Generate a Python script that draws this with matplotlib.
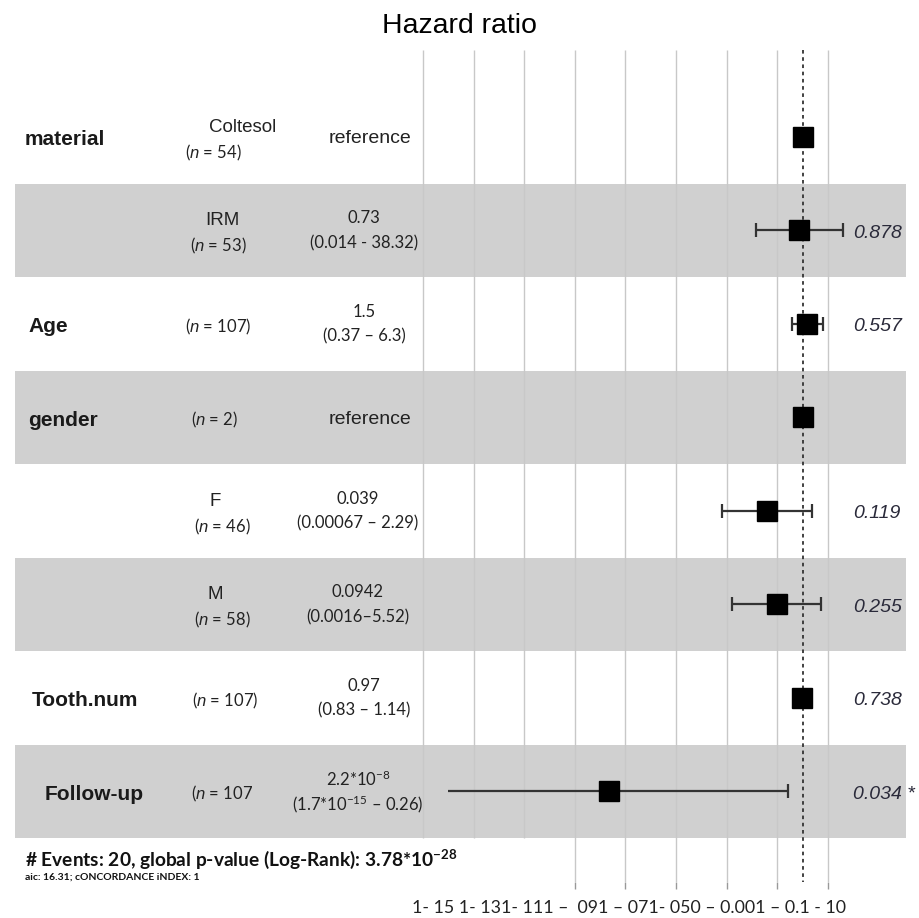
import numpy as np
import matplotlib
matplotlib.use('Agg')
import matplotlib.pyplot as plt

# rows from top to bottom
var_names = ['material', '', 'Age', 'gender', '', '', 'Tooth.num', 'Follow-up']
levels = ['Coltesol', 'IRM', '', '', 'F', 'M', '', '']
n_counts = ['54', '53', '107', '2', '46', '58', '107', '107']
est_top = ['reference', '0.73', '1.5', 'reference', '0.039', '0.0942', '0.97', r'2.2*10$^{-8}$']
est_ci = ['', '(0.014 - 38.32)', '(0.37 \u2013 6.3)', '', '(0.00067 \u2013 2.29)',
          '(0.0016\u20135.52)', '(0.83 \u2013 1.14)', r'(1.7*10$^{-15}$' + ' \u2013 0.26)']
hr = [1.0, 0.73, 1.5, 1.0, 0.039, 0.0942, 0.97, 2.2e-8]
ci_low = [np.nan, 0.014, 0.37, np.nan, 0.00067, 0.0016, 0.83, 1e-14]
ci_high = [np.nan, 38.32, 6.3, np.nan, 2.29, 5.52, 1.14, 0.26]
low_clipped = [False, False, False, False, False, False, False, True]
p_values = ['', '0.878', '0.557', '', '0.119', '0.255', '0.738', '0.034 *']

grid_ticks = [1e-15, 1e-13, 1e-11, 1e-9, 1e-7, 1e-5, 1e-3, 1e-1, 10]
tick_text = '1- 15 1- 131- 111 \u2013  091 \u2013 071- 050 \u2013 0.001 \u2013 0.1 - 10'
footer1 = r'# Events: 20, global p-value (Log-Rank): 3.78*10$^{\mathbf{-28}}$'
footer2 = 'aic: 16.31; cONCORDANCE iNDEX: 1'

# layout of the left table (pixels)
var_x = [25, 25, 28, 28, 28, 28, 32, 45]
level_x = [243, 222, 0, 0, 215, 215, 0, 0]
n_x = [213, 218, 218, 215, 222, 222, 225, 222]
est_x = [370, 364, 364, 370, 358, 358, 364, 358]

plt.rcParams['font.family'] = ['Liberation Sans', 'DejaVu Sans']
plt.rcParams['mathtext.fontset'] = 'custom'
plt.rcParams['mathtext.rm'] = 'Lato'
plt.rcParams['mathtext.bf'] = 'Lato:bold'
plt.rcParams['mathtext.it'] = 'Liberation Sans:italic'

W, H = 920, 918
top_px, bot_px = 50, 882
row0, row_h = 136.75, 93.5
ylo = (bot_px - row0) / row_h
yhi = (top_px - row0) / row_h

fig = plt.figure(figsize=(9.2, 9.18), dpi=100)

bg = fig.add_axes([0, 1 - bot_px / H, 1, (bot_px - top_px) / H])
bg.set_xlim(0, W)
bg.set_ylim(ylo, yhi)
bg.axis('off')

ax = fig.add_axes([412 / W, 1 - bot_px / H, (850 - 412) / W, (bot_px - top_px) / H])
ax.set_xscale('log')
ax.set_xlim(10 ** -15.43, 10 ** 1.87)
ax.set_ylim(ylo, yhi)
ax.patch.set_alpha(0)
for s in ax.spines.values():
    s.set_visible(False)

# shaded bands
for i in range(len(hr)):
    if i % 2 == 1:
        bg.fill_between([15, 906], i - 0.5, i + 0.5, color='#d0d0d0', lw=0, zorder=0)

# grid
for t in grid_ticks:
    bottom = 7.5 if t < 1e-10 else ylo
    ax.vlines(t, yhi, bottom, color='#c8c8c8', lw=1, zorder=1)
ax.vlines(1, yhi, ylo, color='#333333', lw=1.3, linestyles=(0, (2, 2)), zorder=2)

ax.set_xticks(grid_ticks[3:])
ax.set_xticklabels([''] * 6)
ax.minorticks_off()
ax.tick_params(axis='x', length=5, color='#999999', width=1)
ax.set_yticks([])

y = np.arange(len(hr))
for i in range(len(hr)):
    if not np.isnan(ci_low[i]):
        ax.hlines(y[i], ci_low[i], ci_high[i], color='#333333', lw=1.6, zorder=3)
        ax.plot(ci_high[i], y[i], marker='|', ms=10, mew=1.6, color='#333333', zorder=3)
        if not low_clipped[i]:
            ax.plot(ci_low[i], y[i], marker='|', ms=10, mew=1.6, color='#333333', zorder=3)
ax.plot(hr, y, 's', ms=15, color='black', zorder=4)

# table text
for i in range(len(hr)):
    if var_names[i]:
        bg.text(var_x[i], i + 0.03, var_names[i], fontsize=15, fontweight='bold',
                ha='left', va='center', color='#1a1a1a')
    ntxt = r'($\it{n}$ = ' + n_counts[i] + ('' if var_names[i] == 'Follow-up' else ')')
    if levels[i]:
        bg.text(level_x[i], i - 0.1, levels[i], fontsize=13.5, ha='center', va='center',
                color='#222222')
        bg.text(n_x[i], i + 0.17, ntxt, fontsize=12, ha='center', va='center',
                family='Lato', color='#222222')
    else:
        bg.text(n_x[i], i + 0.03, ntxt, fontsize=12, ha='center', va='center',
                family='Lato', color='#222222')
    if est_ci[i]:
        bg.text(est_x[i], i - 0.13, est_top[i], fontsize=12, ha='center', va='center',
                family='Lato', color='#222222')
        bg.text(est_x[i], i + 0.14, est_ci[i], fontsize=12, ha='center', va='center',
                family='Lato', color='#222222')
    else:
        bg.text(est_x[i], i + 0.02, est_top[i], fontsize=14, ha='center', va='center',
                color='#222222')
    if p_values[i]:
        bg.text(853, i + 0.03, p_values[i], fontsize=14, style='italic',
                ha='left', va='center', color='#2a2a3a')

fig.text(0.5, 1 - 26 / H, 'Hazard ratio', fontsize=20.5, ha='center', va='center')
fig.text(25 / W, 1 - 859 / H, footer1, fontsize=13.8, fontweight='bold', family='Lato',
         ha='left', va='center', color='#111111')
fig.text(25 / W, 1 - 877 / H, footer2, fontsize=7.5, fontweight='bold', family='Lato',
         ha='left', va='center', color='#111111')
fig.text(412 / W, 1 - 908 / H, tick_text, fontsize=12.8, family='Lato',
         ha='left', va='center', color='#222222')

fig.savefig('out.png', dpi=100)
